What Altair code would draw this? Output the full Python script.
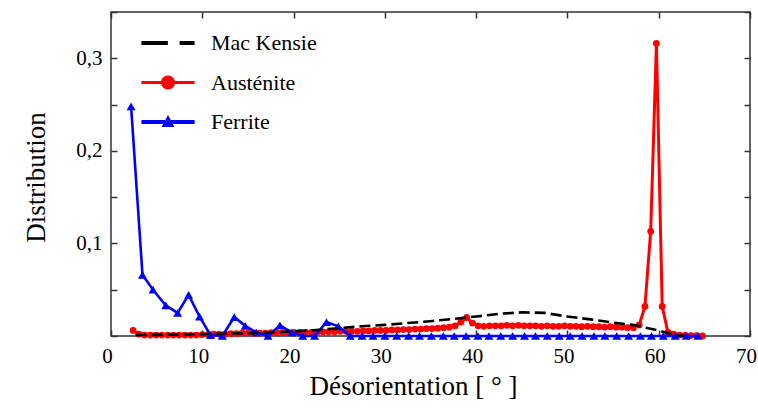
import altair as alt
import pandas as pd

# ---------------- data ----------------
series_names = ["Mac Kensie", "Austénite", "Ferrite"]
series_colors = ["#000000", "#ff0000", "#0000ff"]

mk_x = [2.7, 5.0, 7.5, 10.0, 12.5, 15.0, 17.5, 20.0, 22.5, 25.0, 27.5, 30.0, 32.5, 35.0,
        37.5, 40.0, 42.5, 45.0, 47.5, 50.0, 52.5, 55.0, 57.5, 59.0, 60.0, 61.0, 62.0, 62.8]
mk_y = [0.001, 0.0012, 0.0015, 0.002, 0.0025, 0.003, 0.004, 0.005, 0.0065, 0.0085, 0.0105,
        0.012, 0.014, 0.016, 0.0185, 0.021, 0.024, 0.0255, 0.025, 0.021, 0.018, 0.0145,
        0.0115, 0.008, 0.006, 0.003, 0.001, 0.0]

aus_x = [2.42, 3.05, 3.68, 4.31, 4.94, 5.57, 6.2, 6.83, 7.46, 8.09,
         8.72, 9.35, 9.98, 10.61, 11.24, 11.87, 12.5, 13.13, 13.76, 14.39,
         15.02, 15.65, 16.28, 16.91, 17.54, 18.17, 18.8, 19.43, 20.06, 20.69,
         21.32, 21.95, 22.58, 23.21, 23.84, 24.47, 25.1, 25.73, 26.36, 26.99,
         27.62, 28.25, 28.88, 29.51, 30.14, 30.77, 31.4, 32.03, 32.66, 33.29,
         33.92, 34.55, 35.18, 35.81, 36.44, 37.07, 37.7, 38.33, 38.96, 39.59,
         40.22, 40.85, 41.48, 42.11, 42.74, 43.37, 44.0, 44.63, 45.26, 45.89,
         46.52, 47.15, 47.78, 48.41, 49.04, 49.67, 50.3, 50.93, 51.56, 52.19,
         52.82, 53.45, 54.08, 54.71, 55.34, 55.97, 56.6, 57.23, 57.86, 58.49,
         59.12, 59.75, 60.38, 61.01, 61.64, 62.27, 62.9, 63.53, 64.16, 64.79]
aus_y = [0.006, 0.002, 0.001, 0.001, 0.001, 0.001, 0.001, 0.001, 0.001, 0.001,
         0.001, 0.001, 0.0015, 0.0015, 0.002, 0.002, 0.002, 0.0025, 0.0025, 0.003,
         0.003, 0.003, 0.003, 0.003, 0.0035, 0.0035, 0.0035, 0.0035, 0.004, 0.004,
         0.004, 0.004, 0.004, 0.0045, 0.0045, 0.0045, 0.005, 0.005, 0.005, 0.005,
         0.0055, 0.0055, 0.006, 0.006, 0.006, 0.0065, 0.0065, 0.007, 0.007, 0.0075,
         0.0075, 0.008, 0.008, 0.0085, 0.009, 0.0095, 0.011, 0.015, 0.02, 0.014,
         0.011, 0.0105, 0.011, 0.011, 0.011, 0.0115, 0.011, 0.0115, 0.011, 0.011,
         0.011, 0.0105, 0.011, 0.0105, 0.0105, 0.011, 0.0105, 0.0105, 0.01, 0.0105,
         0.01, 0.01, 0.0095, 0.01, 0.0095, 0.0095, 0.009, 0.009, 0.012, 0.032,
         0.113, 0.316, 0.032, 0.004, 0.002, 0.001, 0.001, 0.0005, 0.0005, 0.0]

fer_x = [2.2, 3.45, 4.6, 6.0, 7.3, 8.5, 9.7, 10.9, 12.2, 13.5,
         14.7, 15.9, 17.2, 18.5, 19.8, 21.0, 22.3, 23.6, 24.9, 26.2,
         27.5, 28.7, 30.0, 31.3, 32.6, 33.8, 35.1, 36.4, 37.6, 38.9,
         40.2, 41.4, 42.7, 44.0, 45.3, 46.5, 47.8, 49.1, 50.3, 51.6,
         52.9, 54.1, 55.4, 56.7, 58.0, 59.2, 60.5, 61.8, 63.0, 64.3]
fer_y = [0.248, 0.066, 0.050, 0.033, 0.025, 0.0445, 0.021, 0.001, 0.0, 0.0205,
         0.011, 0.004, 0.0, 0.0115, 0.004, 0.0, 0.0, 0.015, 0.0105, 0.0,
         0.0, 0.0, 0.0, 0.0, 0.0, 0.0, 0.0, 0.0, 0.0, 0.0,
         0.0, 0.0, 0.0, 0.0, 0.0, 0.0, 0.0, 0.0, 0.0, 0.0,
         0.0, 0.0, 0.0, 0.0, 0.0, 0.0, 0.0, 0.0, 0.0, 0.0]

x_ticks = [0, 10, 20, 30, 40, 50, 60, 70]
y_ticks = [0.0, 0.05, 0.1, 0.15, 0.2, 0.25, 0.3, 0.35]

# legend symbols: line + marker, as custom paths
legend_paths = [
    "M-1.9,-0.14H-0.01V0.14H-1.9Z M0.83,-0.14H1.9V0.14H0.83Z",
    "M-1.9,-0.11H1.9V0.11H-1.9Z M0.5,0A0.5,0.5 0 1,1 -0.5,0A0.5,0.5 0 1,1 0.5,0Z",
    "M-1.9,-0.14H1.9V0.14H-1.9Z M0,-0.5L0.46,0.36L-0.46,0.36Z",
]

mk_df = pd.DataFrame({"x": mk_x, "y": mk_y})
aus_df = pd.DataFrame({"x": aus_x, "y": aus_y})
fer_df = pd.DataFrame({"x": fer_x, "y": fer_y})
leg_df = pd.DataFrame({"x": [mk_x[0], aus_x[0], fer_x[0]],
                       "y": [mk_y[0], aus_y[0], fer_y[0]],
                       "series": series_names})

FONT = "Liberation Serif"
FRAME = "#333333"

xscale = alt.Scale(domain=[0, 70], nice=False, zero=False)
yscale = alt.Scale(domain=[0, 0.35], nice=False, zero=False)

x_main = alt.X("x:Q", scale=xscale, axis=alt.Axis(
    values=x_ticks, offset=-6, tickSize=6, tickWidth=1.5, tickColor=FRAME,
    domain=False, grid=False, labelFont=FONT, labelFontSize=21, labelColor="black",
    labelPadding=9, labelFlush=False, labelOffset=-4,
    title="Désorientation [ ° ]", titleFont=FONT, titleFontSize=27,
    titleFontWeight="normal", titleColor="black", titleX=302, titleY=64,
    titleBaseline="alphabetic"))
y_main = alt.Y("y:Q", scale=yscale, axis=alt.Axis(
    values=y_ticks, offset=-6, tickSize=6, tickWidth=1.5, tickColor=FRAME,
    domain=False, grid=False, labelFont=FONT, labelFontSize=21, labelColor="black",
    labelPadding=9, labelFlush=False,
    labelExpr="(datum.value > 0.01 && abs(datum.value*10 - round(datum.value*10)) < 0.001) ? replace(format(datum.value, '.1f'), '.', ',') : ''",
    title="Distribution", titleFont=FONT, titleFontSize=27, titleFontWeight="normal",
    titleColor="black", titleX=-73, titleY=165, titleAngle=270,
    titleBaseline="alphabetic", titleAlign="center"))

x_plain = alt.X("x:Q", scale=xscale, axis=None)
y_plain = alt.Y("y:Q", scale=yscale, axis=None)

red = alt.Chart(aus_df).mark_line(
    color="#ff0000", strokeWidth=3,
    point=alt.OverlayMarkDef(filled=True, shape="circle", size=46, color="#ff0000", opacity=1)
).encode(x=x_main, y=y_main)

blue = alt.Chart(fer_df).mark_line(
    color="#0000ff", strokeWidth=2.6,
    point=alt.OverlayMarkDef(filled=True, shape="triangle-up", size=80, color="#0000ff", opacity=1)
).encode(x=x_plain, y=y_plain)

black = alt.Chart(mk_df).mark_line(
    color="#000000", strokeWidth=2.6, strokeDash=[11, 5]
).encode(x=x_plain, y=y_plain)

leg = alt.Legend(title=None, orient="none", legendX=43, legendY=17,
                 labelFont=FONT, labelFontSize=22, labelColor="black",
                 labelOffset=29, rowPadding=14.5, padding=0, symbolSize=784,
                 symbolStrokeWidth=0, symbolOpacity=1)

legend_layer = alt.Chart(leg_df).mark_point(filled=True, size=784, opacity=0).encode(
    x=alt.X("x:Q", scale=xscale, axis=alt.Axis(
        orient="top", values=x_ticks, offset=-6, tickSize=6, tickWidth=1.5,
        tickColor=FRAME, domain=False, grid=False, labels=False, title=None)),
    y=alt.Y("y:Q", scale=yscale, axis=alt.Axis(
        orient="right", values=y_ticks, offset=-6, tickSize=6, tickWidth=1.5,
        tickColor=FRAME, domain=False, grid=False, labels=False, title=None)),
    color=alt.Color("series:N", scale=alt.Scale(domain=series_names, range=series_colors),
                    legend=leg),
    shape=alt.Shape("series:N", scale=alt.Scale(domain=series_names, range=legend_paths),
                    legend=leg),
)

chart = alt.layer(red, blue, black, legend_layer).resolve_axis(
    x="independent", y="independent"
).properties(
    width=639, height=324,
    padding={"left": 111, "top": 12, "right": 8, "bottom": 75},
    autosize=alt.AutoSizeParams(type="none"),
    background="white",
).configure_view(
    stroke=FRAME, strokeWidth=1.5
).configure_axis(
    labelFont=FONT, titleFont=FONT
).configure_legend(
    labelFont=FONT, symbolSize=784
).configure_text(font=FONT)

chart.save("out.html", embed_options={"renderer": "svg", "actions": False})
